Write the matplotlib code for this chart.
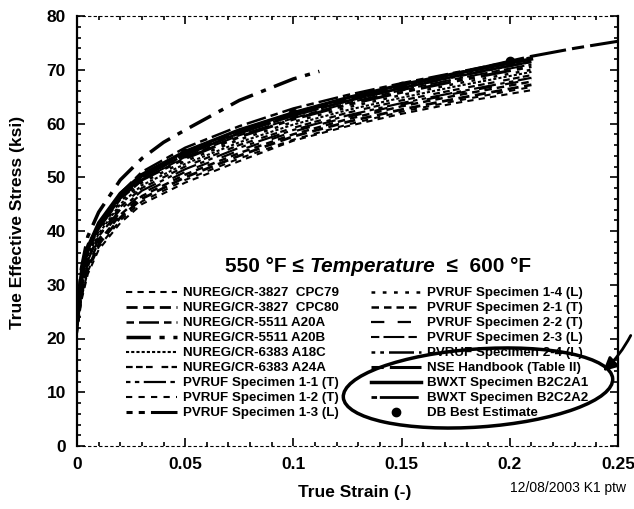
import numpy as np
import matplotlib
matplotlib.use('Agg')
import matplotlib.pyplot as plt
from matplotlib.patches import Ellipse
from matplotlib.transforms import IdentityTransform

plt.rcParams['font.family'] = ['Liberation Sans', 'DejaVu Sans']

# strain grid shared by most test curves
strain = [0, 0.002, 0.005, 0.01, 0.02, 0.03, 0.05, 0.075, 0.1, 0.125, 0.15, 0.175, 0.21]

cpc79 = [21, 27, 32, 36.5, 41.5, 45, 49, 53, 56.8, 59.5, 61.8, 63.8, 66.2]
cpc80 = [22, 28, 33, 37.5, 42.5, 46, 50, 54, 57.6, 60.3, 62.6, 64.6, 67.2]
a20a = [25, 33, 37.5, 41, 47, 51, 55.5, 59.5, 62.8, 65.3, 67.5, 69.5, 72.3]
a20b_strain = [0, 0.002, 0.005, 0.01, 0.02, 0.03, 0.04, 0.05, 0.075, 0.1, 0.112]
a20b = [24, 33, 39, 43.5, 49.5, 53.5, 56.5, 58.8, 64.3, 68.3, 69.7]
a18c = [23, 30, 35.5, 39.5, 45, 48.5, 52.5, 56.5, 59.8, 62.5, 64.8, 66.9, 69.6]
a24a = [23, 30, 35, 39, 44.5, 48, 52, 56, 59.2, 62, 64.3, 66.3, 69]
pv11 = [22, 29, 34.5, 39, 44, 47.5, 51.5, 55.5, 58.8, 61.5, 63.8, 65.8, 68.5]
pv12 = [21, 27.5, 32.5, 37, 42, 45.5, 49.5, 53.5, 57, 59.8, 62.2, 64.2, 66.8]
pv13 = [24, 31, 36.5, 40.5, 46, 49.5, 53.5, 57.5, 60.8, 63.5, 65.8, 67.9, 70.6]
pv14 = [23, 30, 35.5, 40, 45.5, 49, 53, 57, 60.3, 63, 65.3, 67.4, 70]
pv21 = [22, 28.5, 33.5, 38, 43, 46.5, 50.5, 54.5, 58, 60.8, 63.2, 65.2, 67.8]
pv22 = [22.5, 29, 34, 38.5, 43.5, 47, 51, 55, 58.5, 61.2, 63.5, 65.6, 68.2]
pv23 = [24, 31, 36, 40.5, 46, 49.5, 53.8, 57.8, 61, 63.8, 66.2, 68.3, 71]
pv24 = [24.5, 31.5, 37, 41, 46.5, 50, 54.2, 58.2, 61.5, 64.2, 66.6, 68.7, 71.5]
nse_strain = strain + [0.23, 0.25]
nse = [24, 31.5, 36.5, 41, 46.5, 50.2, 54.5, 58.5, 61.8, 64.5, 67, 69.3, 72.5, 74, 75.3]
bwxt1 = [25, 32, 37, 41.5, 47, 50.5, 54.8, 58.8, 62, 64.8, 67.2, 69.3, 72]
bwxt2 = [24.5, 31.5, 36.5, 41, 46.5, 50, 54.2, 58.2, 61.5, 64.2, 66.6, 68.8, 71.5]
db_strain = [0.05, 0.1, 0.15, 0.2]
db_stress = [54.5, 62, 67, 71.7]

fig = plt.figure(figsize=(6.34, 5.09), dpi=100)
ax = fig.add_axes([77/634, 1-446/509, 541/634, 430/509])

k = dict(color='black')
h = []
h += ax.plot(strain, cpc79, ls=(0, (3, 2.5)), lw=1.5, label='NUREG/CR-3827  CPC79', **k)
h += ax.plot(strain, cpc80, ls=(0, (4, 2)), lw=2.0, label='NUREG/CR-3827  CPC80', **k)
h += ax.plot(strain, a20a, ls=(0, (3, 2, 8, 2)), lw=1.8, label='NUREG/CR-5511 A20A', **k)
h += ax.plot(a20b_strain, a20b, ls=(0, (7, 2.5, 1.5, 2.5)), lw=2.5, label='NUREG/CR-5511 A20B', **k)
h += ax.plot(strain, a18c, ls=(0, (1.5, 1)), lw=1.5, label='NUREG/CR-6383 A18C', **k)
h += ax.plot(strain, a24a, ls=(0, (3, 1.5, 3, 1.5, 3, 4)), lw=1.6, label='NUREG/CR-6383 A24A', **k)
h += ax.plot(strain, pv11, ls=(0, (2, 2, 2, 2, 10, 2)), lw=1.6, label='PVRUF Specimen 1-1 (T)', **k)
h += ax.plot(strain, pv12, ls=(0, (3, 3)), lw=1.5, label='PVRUF Specimen 1-2 (T)', **k)
h += ax.plot(strain, pv13, ls=(0, (2, 2, 2, 2, 10, 2)), lw=2.2, label='PVRUF Specimen 1-3 (L)', **k)
h += ax.plot(strain, pv14, ls=(0, (1.5, 3)), lw=1.8, label='PVRUF Specimen 1-4 (L)', **k)
h += ax.plot(strain, pv21, ls=(0, (3, 2)), lw=1.8, label='PVRUF Specimen 2-1 (T)', **k)
h += ax.plot(strain, pv22, ls=(0, (6, 6)), lw=1.6, label='PVRUF Specimen 2-2 (T)', **k)
h += ax.plot(strain, pv23, ls=(0, (4, 2, 10, 2)), lw=1.5, label='PVRUF Specimen 2-3 (L)', **k)
h += ax.plot(strain, pv24, ls=(0, (1.5, 2, 1.5, 2, 10, 2)), lw=1.8, label='PVRUF Specimen 2-4 (L)', **k)
h += ax.plot(nse_strain, nse, ls=(0, (4, 2, 12, 2)), lw=2.2, label='NSE Handbook (Table II)', **k)
h += ax.plot(strain, bwxt1, ls='-', lw=2.5, label='BWXT Specimen B2C2A1', **k)
h += ax.plot(strain, bwxt2, ls=(0, (2, 1, 14, 1)), lw=2.0, label='BWXT Specimen B2C2A2', **k)
h += ax.plot(db_strain, db_stress, ls='none', marker='o', ms=6, label='DB Best Estimate', **k)

ax.set_xlim(0, 0.25)
ax.set_ylim(0, 80)
ax.set_xticks([0, 0.05, 0.1, 0.15, 0.2, 0.25])
ax.set_xticklabels(['0', '0.05', '0.1', '0.15', '0.2', '0.25'])
ax.set_yticks(range(0, 81, 10))
ax.set_xticks(np.arange(0, 0.2501, 0.01), minor=True)
ax.set_yticks(range(0, 81, 2), minor=True)
ax.tick_params(which='both', direction='in', top=True, right=True, width=1.2)
ax.tick_params(which='major', length=6, labelsize=12.5, pad=8)
ax.tick_params(which='minor', length=3)
for lab in ax.get_xticklabels() + ax.get_yticklabels():
    lab.set_fontweight('bold')
ax.spines['left'].set_linewidth(1.6)
ax.spines['right'].set_linewidth(1.6)
for s in ['top', 'bottom']:
    ax.spines[s].set_linewidth(0.8)
    ax.spines[s].set_linestyle((0, (2, 3)))

fig.text(18/634, 1-222/509, 'True Effective Stress (ksi)', rotation=90,
         ha='center', va='center', fontsize=12.5, fontweight='bold')
fig.text(355/634, 1-493/509, 'True Strain (-)', ha='center', va='center',
         fontsize=12.5, fontweight='bold')
fig.text(626/634, 1-488/509, '12/08/2003 K1 ptw', ha='right', va='center', fontsize=10)

# title made of upright and italic pieces
r = fig.canvas.get_renderer()
x0 = 225
for txt, st in [('550 °F \u2264 ', 'normal'), ('Temperature', 'italic'), ('  \u2264  600 °F', 'normal')]:
    t = fig.text(x0/634, 1-267/509, txt, ha='left', va='center', fontsize=15,
                 fontweight='bold', fontstyle=st)
    x0 = t.get_window_extent(r).x1

leg = ax.legend(handles=h, ncol=2, loc='upper left', frameon=False,
                bbox_to_anchor=(126/634, 1-287/509), bbox_transform=fig.transFigure,
                prop=dict(size=9.6, weight='bold'), handlelength=3.8, handletextpad=0.45,
                columnspacing=2.4, labelspacing=0.2, borderpad=0, borderaxespad=0)

ax.add_patch(Ellipse((478, 509-388), 270, 78, angle=4, fill=False, lw=2.5,
                     edgecolor='black', transform=IdentityTransform(), clip_on=False))
ax.annotate('', xy=(601, 509-373), xycoords='figure pixels',
            xytext=(632, 509-333), textcoords='figure pixels',
            arrowprops=dict(arrowstyle='-|>,head_length=0.8,head_width=0.4',
                            lw=2, color='black', connectionstyle='arc3,rad=-0.1'))

fig.savefig('out.png', dpi=100)
